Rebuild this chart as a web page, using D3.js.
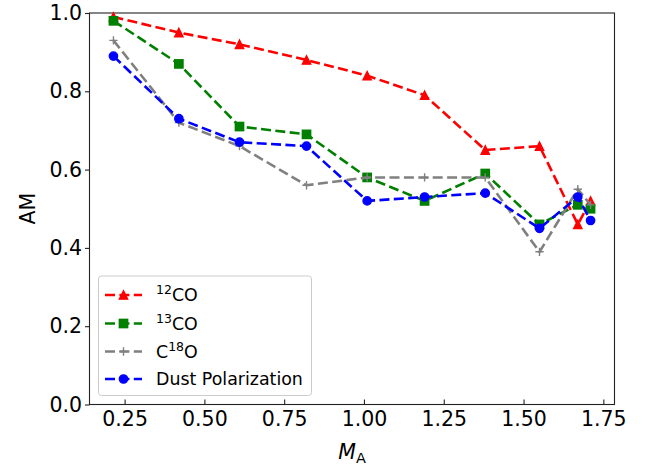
<!DOCTYPE html>
<html>
<head>
<meta charset="utf-8">
<script src="https://cdn.jsdelivr.net/npm/d3@7"></script>
<style>
  html, body { margin: 0; padding: 0; background: #fff; }
  svg { display: block; font-family: "DejaVu Sans", sans-serif; }
</style>
</head>
<body>
<svg id="chart" width="651" height="468"></svg>
<script>
// ---- data ----
const xVals = [0.215, 0.42, 0.61, 0.82, 1.01, 1.19, 1.38, 1.55, 1.67, 1.71];
const co12  = [0.99, 0.95, 0.92, 0.88, 0.84, 0.79, 0.65, 0.66, 0.46, 0.52];
const co13  = [0.98, 0.87, 0.71, 0.69, 0.58, 0.52, 0.59, 0.46, 0.51, 0.50];
const c18o  = [0.93, 0.72, 0.66, 0.56, 0.58, 0.58, 0.58, 0.39, 0.55, 0.51];
const dust  = [0.89, 0.73, 0.67, 0.66, 0.52, 0.53, 0.54, 0.45, 0.53, 0.47];
const xTicks = [0.25, 0.50, 0.75, 1.00, 1.25, 1.50, 1.75];
const yTicks = [0.0, 0.2, 0.4, 0.6, 0.8, 1.0];
const seriesNames = ["12CO", "13CO", "C18O", "Dust Polarization"];

const series = [
  { name: seriesNames[0], values: co12, color: "#ff0000", marker: "triangle" },
  { name: seriesNames[1], values: co13, color: "#008000", marker: "square" },
  { name: seriesNames[2], values: c18o, color: "#808080", marker: "plus" },
  { name: seriesNames[3], values: dust, color: "#0000ff", marker: "circle" }
];

const svg = d3.select("#chart");
const L = 89.5, R = 614.5, T = 13, B = 404.5;
const x = d3.scaleLinear().domain([0.14, 1.785]).range([L, R]);
const y = d3.scaleLinear().domain([0, 1]).range([B, T]);

const FS = 20.5;

// axes
const xAxis = svg.append("g").attr("transform", `translate(0,${B})`)
  .call(d3.axisBottom(x).tickValues(xTicks).tickFormat(d3.format(".2f")).tickSize(-5).tickPadding(7));
const yAxis = svg.append("g").attr("transform", `translate(${L},0)`)
  .call(d3.axisLeft(y).tickValues(yTicks).tickFormat(d3.format(".1f")).tickSize(4.5).tickPadding(3));
[xAxis, yAxis].forEach(g => {
  g.select(".domain").remove();
  g.selectAll(".tick line").attr("stroke", "#222").attr("stroke-width", 1.1);
  g.selectAll(".tick text").attr("fill", "#000").style("font-size", FS + "px")
    .style("font-family", "DejaVu Sans");
});

// frame
svg.append("rect").attr("x", L).attr("y", T).attr("width", R - L).attr("height", B - T)
  .attr("fill", "none").attr("stroke", "#222").attr("stroke-width", 1.1);

// axis labels
svg.append("text").attr("transform", `translate(35,${(T + B) / 2}) rotate(-90)`)
  .attr("text-anchor", "middle").style("font-size", FS + "px").text("AM");
const xl = svg.append("text").attr("x", (L + R) / 2).attr("y", 459)
  .attr("text-anchor", "middle").style("font-size", FS + "px");
xl.append("tspan").style("font-style", "italic").text("M");
xl.append("tspan").attr("dy", 4).style("font-size", "14.5px").text("A");

// marker drawing
const MS = 8.3;
function drawMarker(g, type, color, cx, cy) {
  if (type === "triangle") {
    g.append("path").attr("d", `M${cx},${cy - MS / 2}L${cx - MS / 2},${cy + MS / 2}L${cx + MS / 2},${cy + MS / 2}Z`)
      .attr("fill", color).attr("stroke", color).attr("stroke-width", 1.4).attr("stroke-linejoin", "miter");
  } else if (type === "square") {
    g.append("rect").attr("x", cx - MS / 2).attr("y", cy - MS / 2).attr("width", MS).attr("height", MS)
      .attr("fill", color).attr("stroke", color).attr("stroke-width", 1.4);
  } else if (type === "circle") {
    g.append("circle").attr("cx", cx).attr("cy", cy).attr("r", MS / 2)
      .attr("fill", color).attr("stroke", color).attr("stroke-width", 1.4);
  } else if (type === "plus") {
    g.append("path").attr("d", `M${cx - MS / 2},${cy}H${cx + MS / 2}M${cx},${cy - MS / 2}V${cy + MS / 2}`)
      .attr("fill", "none").attr("stroke", color).attr("stroke-width", 1.4);
  }
}

const line = d3.line().x(d => x(d[0])).y(d => y(d[1]));
const plot = svg.append("g");
series.forEach(s => {
  const pts = xVals.map((xv, i) => [xv, s.values[i]]);
  const g = plot.append("g");
  g.append("path").attr("d", line(pts)).attr("fill", "none").attr("stroke", s.color)
    .attr("stroke-width", 2.6).attr("stroke-dasharray", "10,4.4");
  pts.forEach(p => drawMarker(g, s.marker, s.color, x(p[0]), y(p[1])));
});

// legend
const lg = svg.append("g");
lg.append("rect").attr("x", 98.5).attr("y", 276).attr("width", 213).attr("height", 119.5)
  .attr("rx", 3).attr("fill", "#fff").attr("fill-opacity", 0.8).attr("stroke", "#ccc").attr("stroke-width", 1);
const rowY = [295, 323.5, 351.5, 379];
const LFS = 17.4;
series.forEach((s, i) => {
  const yy = rowY[i];
  lg.append("line").attr("x1", 105).attr("x2", 142).attr("y1", yy).attr("y2", yy)
    .attr("stroke", s.color).attr("stroke-width", 2.6).attr("stroke-dasharray", "10,4.4");
  drawMarker(lg, s.marker, s.color, 123.5, yy);
  const t = lg.append("text").attr("x", 156).attr("y", yy + 6).style("font-size", LFS + "px");
  if (i === 0 || i === 1) {
    t.append("tspan").attr("dy", -7).style("font-size", "12.5px").text(i === 0 ? "12" : "13");
    t.append("tspan").attr("dy", 7).text("CO");
  } else if (i === 2) {
    t.append("tspan").text("C");
    t.append("tspan").attr("dy", -7).style("font-size", "12.5px").text("18");
    t.append("tspan").attr("dy", 7).text("O");
  } else {
    t.text(s.name);
  }
});
</script>
</body>
</html>
